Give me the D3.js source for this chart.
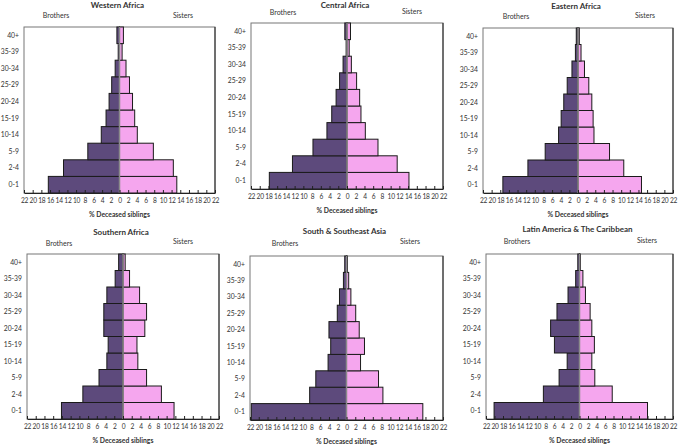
<!DOCTYPE html>
<html><head><meta charset="utf-8">
<script src="https://cdn.jsdelivr.net/npm/d3@7"></script>
<style>
html,body{margin:0;padding:0;background:#fff;}
svg{display:block;}
text{font-family:Lato, "Open Sans", sans-serif;fill:#333;}
</style></head>
<body>
<svg id="c" width="679" height="446"></svg>
<script>
const ageGroups = ["0-1","2-4","5-9","10-14","15-19","20-24","25-29","30-34","35-39","40+"];
const tickValues = [-22,-20,-18,-16,-14,-12,-10,-8,-6,-4,-2,0,2,4,6,8,10,12,14,16,18,20,22];
const regions = ["Western Africa","Central Africa","Eastern Africa","Southern Africa","South & Southeast Asia","Latin America & The Caribbean"];
const brotherLabel = "Brothers", sisterLabel = "Sisters", xLabel = "% Deceased siblings";

const westernBrothers  = [16.4,12.9,7.3,4.2,3.1,2.4,1.8,1.0,0.3,0.6];
const westernSisters   = [13.2,12.4,7.8,4.1,3.5,3.0,2.3,1.5,0.6,0.9];
const centralBrothers  = [17.8,12.5,7.8,4.6,3.5,2.5,1.7,0.9,0.2,0.5];
const centralSisters   = [14.2,11.5,7.1,4.2,3.2,2.9,2.2,1.0,0.5,0.8];
const easternBrothers  = [17.4,11.6,7.6,4.5,3.9,3.3,2.5,1.4,0.6,0.4];
const easternSisters   = [14.7,10.6,7.3,3.7,3.5,3.2,2.5,1.5,0.7,0.3];
const southernBrothers = [14.1,9.2,5.5,3.7,3.4,4.4,4.4,3.7,1.8,1.0];
const southernSisters  = [11.7,8.8,5.4,3.4,3.2,5.0,5.4,3.8,1.5,0.5];
const asiaBrothers     = [21.7,8.4,7.0,4.2,3.6,4.0,2.1,1.6,0.7,0.4];
const asiaSisters      = [17.4,8.3,7.3,3.2,4.1,2.9,2.1,1.0,0.5,0.2];
const latinBrothers    = [20.1,8.5,4.8,2.9,5.9,6.8,5.3,2.7,0.9,0.4];
const latinSisters     = [16.0,7.7,3.6,2.9,3.5,2.9,2.5,1.4,0.8,0.2];

const brothersByRegion = [westernBrothers,centralBrothers,easternBrothers,southernBrothers,asiaBrothers,latinBrothers];
const sistersByRegion  = [westernSisters,centralSisters,easternSisters,southernSisters,asiaSisters,latinSisters];

// layout (pixel boxes for each panel)
const layout = [
  {x0:24, x1:215, y0:27, y1:193, ty:5,  bx:56,  by:16, sx:183, sy:16},
  {x0:251,x1:443, y0:23, y1:189, ty:5,  bx:283, by:13, sx:412, sy:12},
  {x0:483,x1:673, y0:28, y1:193, ty:6,  bx:516, by:17, sx:645, sy:16},
  {x0:27, x1:219, y0:254,y1:419, ty:232,bx:59,  by:244,sx:183, sy:242},
  {x0:250,x1:443, y0:256,y1:420, ty:231,bx:285, by:244,sx:410, sy:242},
  {x0:486,x1:673, y0:254,y1:419, ty:229,bx:517, by:242,sx:647, sy:241}
];

const purple = "#5d4a7c", pink = "#f5a6ee";
const svg = d3.select("#c");

regions.forEach((name,i)=>{
  const L = layout[i];
  const g = svg.append("g");
  const x = d3.scaleLinear().domain([-22,22]).range([L.x0,L.x1]);
  const y = d3.scaleBand().domain(ageGroups.slice().reverse()).range([L.y0,L.y1]).padding(0);

  g.append("rect").attr("x",L.x0).attr("y",L.y0).attr("width",L.x1-L.x0).attr("height",L.y1-L.y0)
   .attr("fill","#fff").attr("stroke","#777").attr("stroke-width",1);
  g.append("line").attr("x1",L.x1).attr("x2",L.x1).attr("y1",L.y0).attr("y2",L.y1).attr("stroke","#222");

  const b = brothersByRegion[i], s = sistersByRegion[i];
  g.selectAll(".bro").data(ageGroups).join("rect")
    .attr("x",(d,k)=>x(-b[k])).attr("y",d=>y(d))
    .attr("width",(d,k)=>x(0)-x(-b[k])).attr("height",y.bandwidth())
    .attr("fill",purple).attr("stroke","#1a1a1a").attr("stroke-width",1);
  g.selectAll(".sis").data(ageGroups).join("rect")
    .attr("x",x(0)).attr("y",d=>y(d))
    .attr("width",(d,k)=>x(s[k])-x(0)).attr("height",y.bandwidth())
    .attr("fill",pink).attr("stroke","#1a1a1a").attr("stroke-width",1);
  g.append("line").attr("x1",x(0)).attr("x2",x(0)).attr("y1",L.y0).attr("y2",L.y1)
    .attr("stroke","#8a8a8a").attr("stroke-width",1.5);

  // age labels
  g.selectAll(".age").data(ageGroups).join("text")
    .attr("x",L.x0-5).attr("y",d=>y(d)+y.bandwidth()/2).attr("dy","0.35em")
    .attr("text-anchor","end").attr("font-size",6.8).attr("fill","#444").text(d=>d);

  // x axis
  const ax = g.append("g").attr("transform",`translate(0,${L.y1})`)
    .call(d3.axisBottom(x).tickValues(tickValues).tickFormat(d=>Math.abs(d)).tickSize(-3).tickPadding(5).tickSizeOuter(0));
  ax.select(".domain").attr("stroke","#222");
  ax.selectAll(".tick line").attr("stroke","#222");
  ax.selectAll(".tick text").attr("font-size",6.6).attr("fill","#333").style("font-family","Lato, sans-serif").attr("letter-spacing","-0.2");

  g.append("text").attr("x",(L.x0+L.x1)/2).attr("y",L.y1+22).attr("dy","0.35em")
    .attr("text-anchor","middle").attr("font-size",6.8).attr("font-weight","bold").attr("fill","#333").text(xLabel);

  g.append("text").attr("x",(L.x0+L.x1)/2 - 2).attr("y",L.ty).attr("dy","0.35em")
    .attr("text-anchor","middle").attr("font-size",8).attr("font-weight","bold").attr("fill","#222").text(name);
  g.append("text").attr("x",L.bx).attr("y",L.by).attr("dy","0.35em")
    .attr("text-anchor","middle").attr("font-size",7).attr("fill","#333").text(brotherLabel);
  g.append("text").attr("x",L.sx).attr("y",L.sy).attr("dy","0.35em")
    .attr("text-anchor","middle").attr("font-size",7).attr("fill","#333").text(sisterLabel);
});
</script>
</body></html>
